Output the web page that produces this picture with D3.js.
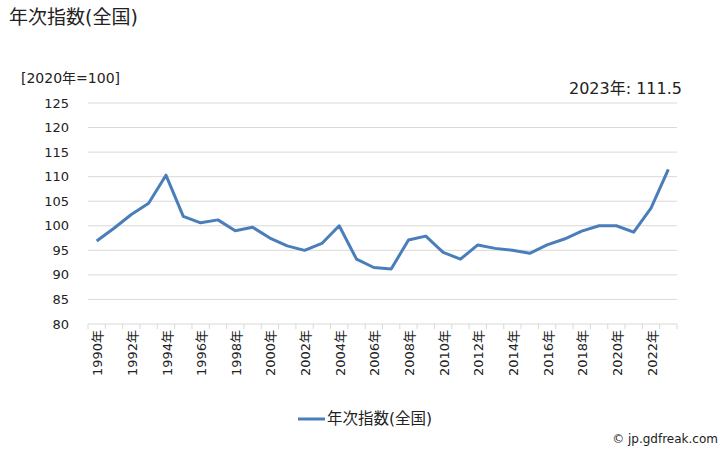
<!DOCTYPE html>
<html><head><meta charset="utf-8">
<script src="https://cdn.jsdelivr.net/npm/d3@7"></script>
<style>
body{margin:0;background:#fff;}
text{font-family:"DejaVu Sans","Noto Sans CJK JP",sans-serif;fill:#222;}
</style></head>
<body><svg id="c" width="728" height="450"></svg>
<script>
const years = d3.range(1990, 2024).map(String);
const values = [96.9,99.5,102.3,104.6,110.3,101.9,100.6,101.2,99.0,99.7,97.5,95.9,95.0,96.4,100.0,93.2,91.5,91.2,97.1,97.9,94.6,93.2,96.1,95.4,95.0,94.4,96.1,97.3,98.9,100.0,100.0,98.7,103.6,111.5];
const yTicks = [80,85,90,95,100,105,110,115,120,125];
const seriesName = "年次指数(全国)";

const svg = d3.select("#c");
const L=88, R=677, T=103, B=324;
const x = d3.scaleBand().domain(years).range([L,R]);
const y = d3.scaleLinear().domain([80,125]).range([B,T]);

svg.append("text").attr("x",9).attr("y",24).style("font-size","19px").text(seriesName);
svg.append("text").attr("x",21).attr("y",83).style("font-size","14px").text("[2020年=100]");
svg.append("text").attr("x",682).attr("y",94).attr("text-anchor","end").style("font-size","16px")
  .text("2023年: " + values[values.length-1]);

// grid
svg.append("g").selectAll("line").data(yTicks.filter(d=>d>80)).join("line")
  .attr("x1",L).attr("x2",R).attr("y1",d=>y(d)).attr("y2",d=>y(d))
  .attr("stroke","#d9d9d9").attr("stroke-width",1);
// y labels
svg.append("g").selectAll("text").data(yTicks).join("text")
  .attr("x",69).attr("y",d=>y(d)).attr("dy","0.35em").attr("text-anchor","end")
  .style("font-size","13px").text(d=>d);
// x axis line and ticks
svg.append("line").attr("x1",L).attr("x2",R).attr("y1",B).attr("y2",B).attr("stroke","#d9d9d9");
const tickPos = years.map(d=>x(d)).concat([R]);
svg.append("g").selectAll("line").data(tickPos).join("line")
  .attr("x1",d=>d).attr("x2",d=>d).attr("y1",B).attr("y2",B+5).attr("stroke","#d9d9d9");
// x labels
svg.append("g").selectAll("text").data(years.filter((d,i)=>i%2===0)).join("text")
  .attr("transform",d=>`translate(${x(d)+x.bandwidth()/2+1},${B+6}) rotate(-90)`)
  .attr("text-anchor","end").attr("dy","0.35em").style("font-size","13px")
  .text(d=>d+"年");
// line
const line = d3.line().x((d,i)=>x(years[i])+x.bandwidth()/2).y(d=>y(d));
svg.append("path").datum(values).attr("d",line).attr("fill","none")
  .attr("stroke","#4a7ebb").attr("stroke-width",3).attr("stroke-linejoin","round");
// legend
svg.append("line").attr("x1",298).attr("x2",325).attr("y1",419).attr("y2",419)
  .attr("stroke","#4a7ebb").attr("stroke-width",3);
svg.append("text").attr("x",327).attr("y",419).attr("dy","0.35em").style("font-size","15.5px").text(seriesName);
svg.append("text").attr("x",718).attr("y",443).attr("text-anchor","end").style("font-size","12px").text("© jp.gdfreak.com");
</script></body></html>
